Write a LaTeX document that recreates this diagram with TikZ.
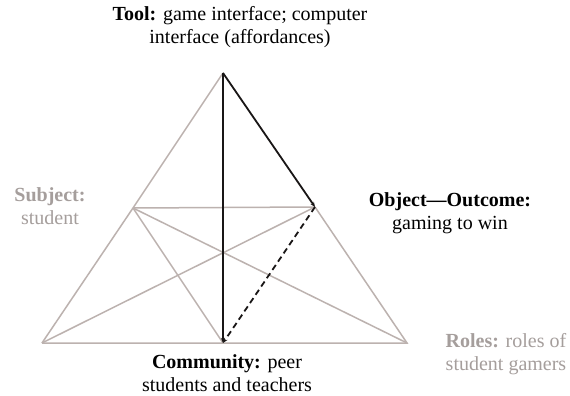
\documentclass[tikz,border=0pt]{standalone}
\usepackage{fontspec}
\setmainfont{Liberation Serif}
\usetikzlibrary{arrows.meta}
\definecolor{lgray}{RGB}{188,178,175}
\definecolor{tgray}{RGB}{165,158,156}
\definecolor{dk}{RGB}{25,22,22}
\tikzset{
  gline/.style={draw=lgray, line width=1.5pt},
  bline/.style={draw=dk, line width=1.8pt, -{Stealth[length=5pt,width=4pt]}},
  dline/.style={draw=dk, line width=1.8pt, dash pattern=on 6pt off 4pt, -{Stealth[length=5pt,width=4pt]}},
  lbl/.style={align=center, inner sep=0pt, font=\fontsize{20}{23.5}\selectfont},
}
\begin{document}
\begin{tikzpicture}[x=1pt,y=-1pt]
\path[use as bounding box, fill=white] (0,0) rectangle (570,396);
% vertices
\coordinate (T) at (223,73);
\coordinate (S) at (133,208);
\coordinate (O) at (315,207);
\coordinate (BL) at (42,343);
\coordinate (C) at (223,343);
\coordinate (BR) at (407,343);
% gray lines
\draw[gline] (BL) -- (S) -- (T);
\draw[gline] (O) -- (BR) -- (C) -- (BL);
\draw[gline] (S) -- (O);
\draw[gline] (S) -- (C);
\draw[gline] (S) -- (BR);
\draw[gline] (O) -- (BL);
% black lines
\draw[bline] (T) -- (O);
\draw[bline] (T) -- (C);
\draw[dline] (O) -- (C);
% labels
\node[lbl] (tool) at (240,27) {\textbf{Tool:} game interface; computer\\interface (affordances)};
\node[lbl, text=tgray] (subj) at (50,206) {\textbf{Subject:}\\student};
\node[lbl] (obj) at (450,213) {\textbf{Object---Outcome:}\\gaming to win};
\node[lbl] (comm) at (227,373) {\textbf{Community:} peer\\students and teachers};
\node[lbl, text=tgray] (roles) at (506,354) {\textbf{Roles:} roles of\\student gamers};
\end{tikzpicture}
\end{document}
